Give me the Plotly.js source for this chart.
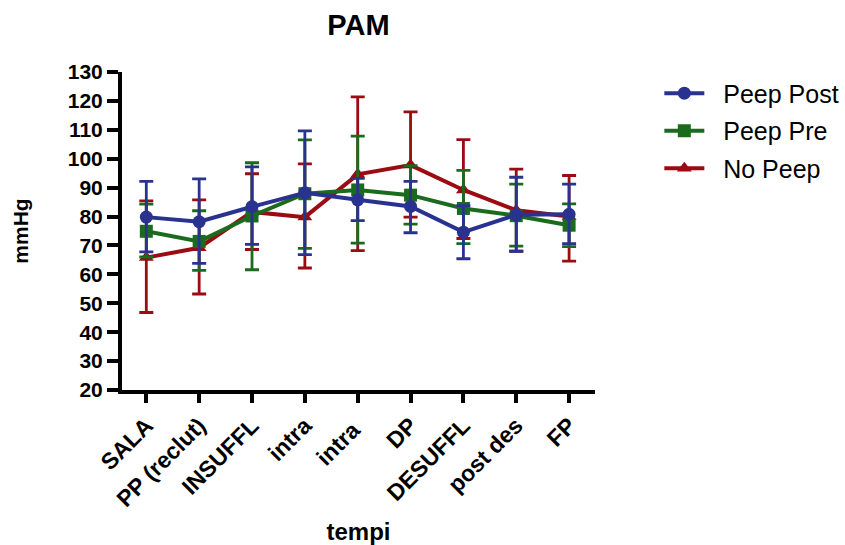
<!DOCTYPE html>
<html>
<head>
<meta charset="utf-8">
<script src="https://cdn.plot.ly/plotly-3.0.1.min.js"></script>
<style>html,body{margin:0;padding:0;background:#fff;}#chart{width:845px;height:545px;}</style>
</head>
<body>
<div id="chart"></div>
<script>
const categories = ["SALA", "PP (reclut)", "INSUFFL", "intra", "intra ", "DP", "DESUFFL", "post des", "FP"];

const peepPostMean = [79.8, 78.2, 83.4, 88.2, 85.8, 83.5, 74.6, 80.6, 80.8];
const peepPostHigh = [92.2, 93.0, 97.2, 109.6, 93.2, 92.2, 83.8, 93.6, 91.2];
const peepPostLow  = [67.8, 63.8, 70.4, 66.8, 78.6, 74.4, 65.4, 68.0, 70.6];

const peepPreMean = [74.9, 71.4, 80.2, 87.9, 89.2, 87.4, 82.8, 80.3, 77.0];
const peepPreHigh = [84.3, 82.0, 98.6, 106.5, 107.8, 97.6, 96.0, 91.2, 84.4];
const peepPreLow  = [66.0, 61.4, 61.6, 69.0, 70.8, 77.4, 70.6, 69.8, 69.6];

const noPeepMean = [65.8, 69.2, 81.6, 79.8, 94.6, 97.8, 89.2, 82.2, 80.0];
const noPeepHigh = [85.4, 85.8, 94.8, 98.2, 121.4, 116.2, 106.6, 96.4, 94.2];
const noPeepLow  = [46.8, 53.2, 68.6, 62.2, 68.2, 79.8, 72.4, 68.0, 64.6];

const yTicks = [20, 30, 40, 50, 60, 70, 80, 90, 100, 110, 120, 130];

const FONT = "Liberation Sans, Arial, sans-serif";
const PAD = "\u00a0\u00a0";

function mkTrace(name, mean, hi, lo, color, symbol, rank) {
  return {
    type: "scatter",
    mode: "lines+markers",
    name: PAD + name,
    legendgroup: name,
    legendrank: rank,
    x: categories,
    y: mean,
    line: {color: color, width: 4},
    marker: {color: color, symbol: symbol, size: 13},
    error_y: {
      type: "data",
      symmetric: false,
      array: hi.map((h, i) => h - mean[i]),
      arrayminus: mean.map((m, i) => m - lo[i]),
      color: color,
      thickness: 2.8,
      width: 7
    },
    cliponaxis: false
  };
}

const data = [
  mkTrace("No Peep", noPeepMean, noPeepHigh, noPeepLow, "#9A0B12", "triangle-up", 3),
  mkTrace("Peep Pre", peepPreMean, peepPreHigh, peepPreLow, "#1B6B1E", "square", 2),
  mkTrace("Peep Post", peepPostMean, peepPostHigh, peepPostLow, "#29338F", "circle", 1)
];

const layout = {
  width: 845,
  height: 545,
  margin: {l: 122, r: 250, t: 72, b: 155, autoexpand: false},
  paper_bgcolor: "#fff",
  plot_bgcolor: "#fff",
  font: {family: FONT, color: "#000"},
  title: {
    text: "PAM",
    font: {family: FONT, size: 29, weight: "bold", color: "#000"},
    x: 0.5, xref: "paper", xanchor: "center",
    y: 0.955, yref: "container", yanchor: "middle"
  },
  showlegend: true,
  legend: {
    x: 1.136, xanchor: "left", y: 1.005, yanchor: "top",
    traceorder: "grouped",
    tracegroupgap: 2,
    font: {family: FONT, size: 25, color: "#000"},
    itemwidth: 40,
    bgcolor: "rgba(0,0,0,0)"
  },
  xaxis: {
    type: "category",
    range: [-0.46, 8.49],
    showline: true, linecolor: "#000", linewidth: 4,
    ticks: "outside", ticklen: 9, tickwidth: 4, tickcolor: "#000",
    showgrid: false, zeroline: false,
    tickangle: -45,
    tickfont: {family: FONT, size: 23, weight: "bold", color: "#000"},
    title: {text: "tempi", font: {family: FONT, size: 24, weight: "bold", color: "#000"}, standoff: 22}
  },
  yaxis: {
    range: [20, 130],
    tickvals: yTicks,
    ticktext: yTicks.map(String),
    showline: true, linecolor: "#000", linewidth: 4,
    ticks: "outside", ticklen: 11, tickwidth: 4, tickcolor: "#000",
    showgrid: false, zeroline: false,
    tickfont: {family: FONT, size: 21, weight: "bold", color: "#000"},
    title: {text: "mmHg", font: {family: FONT, size: 21, weight: "bold", color: "#000"}, standoff: 34}
  }
};

Plotly.newPlot("chart", data, layout, {displayModeBar: false, staticPlot: true});
</script>
</body>
</html>
